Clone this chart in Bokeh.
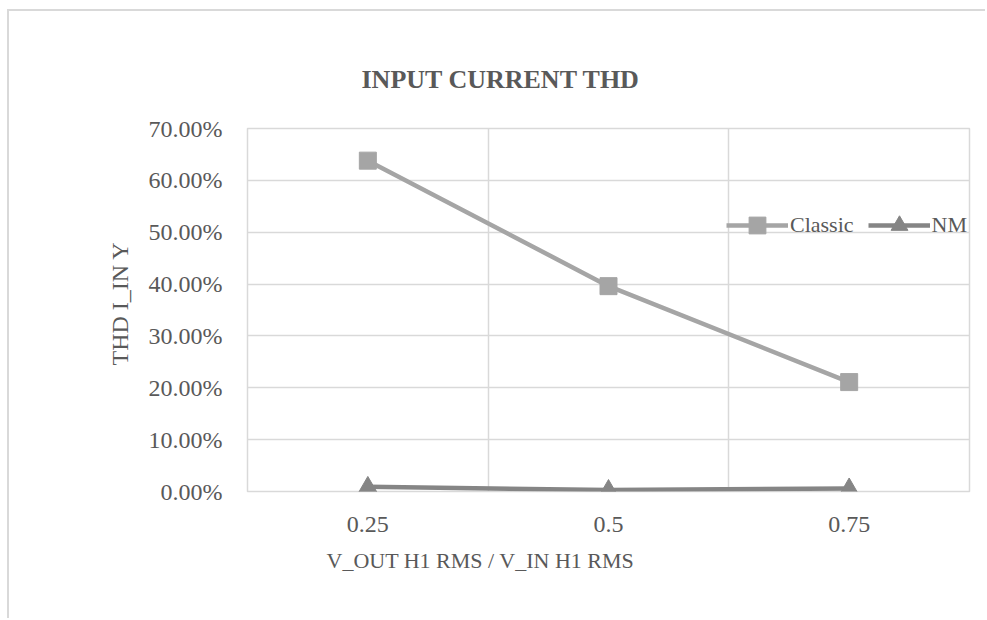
from bokeh.plotting import figure
from bokeh.models import (Range1d, FactorRange, NumeralTickFormatter, FixedTicker, Legend,
                          LegendItem, Title, ColumnDataSource)
from bokeh.embed import file_html
from bokeh.resources import INLINE

# ---- data ----
categories = ["0.25", "0.5", "0.75"]
classic = [0.638, 0.396, 0.211]
nm = [0.009, 0.003, 0.006]
y_ticks = [0.0, 0.1, 0.2, 0.3, 0.4, 0.5, 0.6, 0.7]
title_text = "INPUT CURRENT THD"
x_title = "V_OUT H1 RMS / V_IN H1 RMS"
y_title = "THD I_IN Y"

SERIF = "Liberation Serif"
TXT = "#595959"
GRID = "#D9D9D9"
C_CLASSIC = "#A5A5A5"
C_NM = "#858585"

p = figure(width=978, height=609, x_range=FactorRange(*categories), y_range=Range1d(0, 0.7),
           output_backend="svg", toolbar_location=None, title=None,
           min_border_left=238, min_border_right=18, min_border_top=117, min_border_bottom=129)
p.margin = (9, 0, 0, 7)
p.styles = {"border-left": "2px solid #D9D9D9", "border-top": "2px solid #D9D9D9"}
p.background_fill_color = "white"
p.border_fill_color = "white"
p.outline_line_color = GRID
p.outline_line_width = 1.5

# axes
p.yaxis.ticker = FixedTicker(ticks=y_ticks)
p.yaxis.formatter = NumeralTickFormatter(format="0.00%")
for ax in (p.xaxis, p.yaxis):
    ax.axis_line_color = None
    ax.major_tick_line_color = None
    ax.minor_tick_line_color = None
    ax.major_tick_out = 0
    ax.major_tick_in = 0
    ax.major_label_text_font = SERIF
    ax.major_label_text_font_size = "24px"
    ax.major_label_text_color = TXT
p.yaxis.major_label_standoff = 25
p.xaxis.major_label_standoff = 25

# grids
p.ygrid.ticker = FixedTicker(ticks=y_ticks)
p.ygrid.grid_line_color = GRID
p.ygrid.grid_line_width = 1.5
p.xgrid.ticker = FixedTicker(ticks=[0, 1, 2, 3])
p.xgrid.grid_line_color = GRID
p.xgrid.grid_line_width = 1.5

src = ColumnDataSource(dict(x=categories, classic=classic, nm=nm))
lc = p.line("x", "classic", source=src, line_color=C_CLASSIC, line_width=4.5)
mc = p.scatter("x", "classic", source=src, marker="square", size=17, fill_color=C_CLASSIC,
               line_color=C_CLASSIC)
ln = p.line("x", "nm", source=src, line_color=C_NM, line_width=4.5)
mn = p.scatter("x", "nm", source=src, marker="triangle", size=18, fill_color=C_NM, line_color=C_NM)

legend = Legend(items=[LegendItem(label="Classic", renderers=[lc, mc]),
                       LegendItem(label="NM", renderers=[ln, mn])],
                orientation="horizontal", location=(479, 245), glyph_width=62, glyph_height=42,
                label_text_font=SERIF, label_text_font_size="22px", label_text_color=TXT,
                background_fill_alpha=0, border_line_alpha=0, padding=0, margin=0,
                spacing=14, label_standoff=2)
p.add_layout(legend)

p.add_layout(Title(text=title_text, align="left", offset=114, standoff=70,
                   text_font=SERIF, text_font_style="bold", text_font_size="26px",
                   text_color=TXT), "above")
p.add_layout(Title(text=x_title, align="left", offset=79, standoff=22,
                   text_font=SERIF, text_font_style="normal", text_font_size="22px",
                   text_color=TXT), "below")
p.add_layout(Title(text=y_title, align="left", offset=126, standoff=25,
                   text_font=SERIF, text_font_style="normal", text_font_size="24px",
                   text_color=TXT), "left")

open("out.html", "w").write(file_html(p, INLINE))
